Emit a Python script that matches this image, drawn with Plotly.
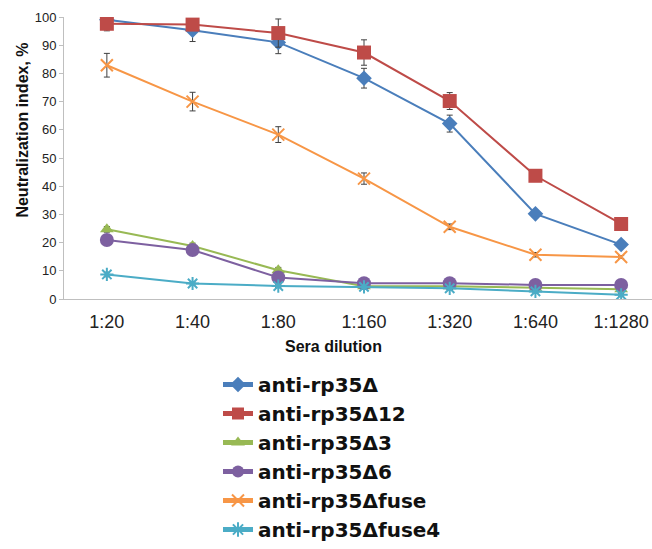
import plotly.graph_objects as go

dilutions = ["1:20", "1:40", "1:80", "1:160", "1:320", "1:640", "1:1280"]

names = ["anti-rp35Δ", "anti-rp35Δ12", "anti-rp35Δ3", "anti-rp35Δ6",
         "anti-rp35Δfuse", "anti-rp35Δfuse4"]

rp35 = [99.0, 95.3, 91.0, 78.3, 62.2, 30.2, 19.3]
rp35_err = [3.0, 4.0, 4.0, 3.5, 3.0, 1.0, 1.0]

rp35_12 = [97.6, 97.3, 94.3, 87.4, 70.2, 43.7, 26.6]
rp35_12_err = [2.5, 2.0, 5.0, 4.5, 3.0, 1.0, 1.0]

rp35_3 = [24.7, 18.8, 10.2, 4.5, 4.5, 4.0, 3.5]
rp35_3_err = [1.0, 1.0, 1.0, 0.5, 0.5, 0.5, 0.5]

rp35_6 = [20.9, 17.4, 7.6, 5.6, 5.6, 5.0, 5.0]
rp35_6_err = [1.0, 1.0, 1.0, 0.5, 0.5, 0.5, 0.5]

rp35_fuse = [82.9, 70.0, 58.3, 42.7, 25.6, 15.7, 14.9]
rp35_fuse_err = [4.2, 3.3, 2.8, 2.0, 1.0, 0.8, 0.5]

rp35_fuse4 = [8.7, 5.5, 4.6, 4.3, 3.8, 2.7, 1.5]
rp35_fuse4_err = [0.8, 0.5, 0.5, 0.5, 0.5, 0.5, 0.5]

series = [rp35, rp35_12, rp35_3, rp35_6, rp35_fuse, rp35_fuse4]
errors = [rp35_err, rp35_12_err, rp35_3_err, rp35_6_err, rp35_fuse_err, rp35_fuse4_err]
colors = ["#4a7ebb", "#be4b48", "#98b954", "#7d60a0", "#f79646", "#4bacc6"]
symbols = ["diamond", "square", "triangle-up", "circle", "x-thin-open", "asterisk-open"]
sizes = [12, 14, 12, 14, 12, 11]

fig = go.Figure()
for name, y, err, c, s, sz in zip(names, series, errors, colors, symbols, sizes):
    open_sym = s.endswith("open")
    fig.add_trace(go.Scatter(
        x=dilutions, y=y, name=name, mode="lines+markers",
        line=dict(color=c, width=2),
        marker=dict(symbol=s, size=sz, color=c,
                    line=dict(color=c, width=2 if open_sym else 0)),
        error_y=dict(type="data", array=err, visible=True,
                     color="#404040", thickness=1, width=3),
    ))

fig.update_layout(
    width=652, height=549,
    margin=dict(l=64, r=0, t=17, b=249),
    paper_bgcolor="white", plot_bgcolor="white",
    font=dict(family="Arial, Liberation Sans, sans-serif", color="#222222"),
    showlegend=True,
    legend=dict(
        x=(218 - 64) / 588, xanchor="left",
        y=(300 - 366) / 283, yanchor="top",
        font=dict(size=20, color="#111111", weight="bold",
                  family="DejaVu Sans, sans-serif"),
        itemwidth=30, itemsizing="constant", tracegroupgap=0,
        bgcolor="rgba(0,0,0,0)",
    ),
    xaxis=dict(
        type="category", range=[-0.5, 6.36],
        showline=True, linecolor="#bfbfbf", linewidth=1,
        showgrid=False, zeroline=False, ticks="",
        ticklabelstandoff=6, ticklabeloverflow="allow",
        tickfont=dict(size=18, color="#222222"),
    ),
    yaxis=dict(
        range=[0, 100], dtick=10,
        showline=True, linecolor="#bfbfbf", linewidth=1,
        ticks="outside", ticklen=4, tickcolor="#bfbfbf",
        showgrid=False, zeroline=False,
        tickfont=dict(size=13, color="#222222"),
    ),
    annotations=[
        dict(text="<b>Sera dilution</b>", xref="paper", yref="paper",
             x=(333 - 64) / 588, y=(300 - 347.7) / 283,
             xanchor="center", yanchor="middle", showarrow=False,
             font=dict(size=16, color="#111111")),
        dict(text="<b>Neutralization index, %</b>", xref="paper", yref="paper",
             x=(23 - 64) / 588, y=(300 - 131) / 283, textangle=-90,
             xanchor="center", yanchor="middle", showarrow=False,
             font=dict(size=16, color="#111111")),
    ],
)

fig.write_html("out.html", config={"displayModeBar": False},
               post_script="document.body.style.margin='0px';")
